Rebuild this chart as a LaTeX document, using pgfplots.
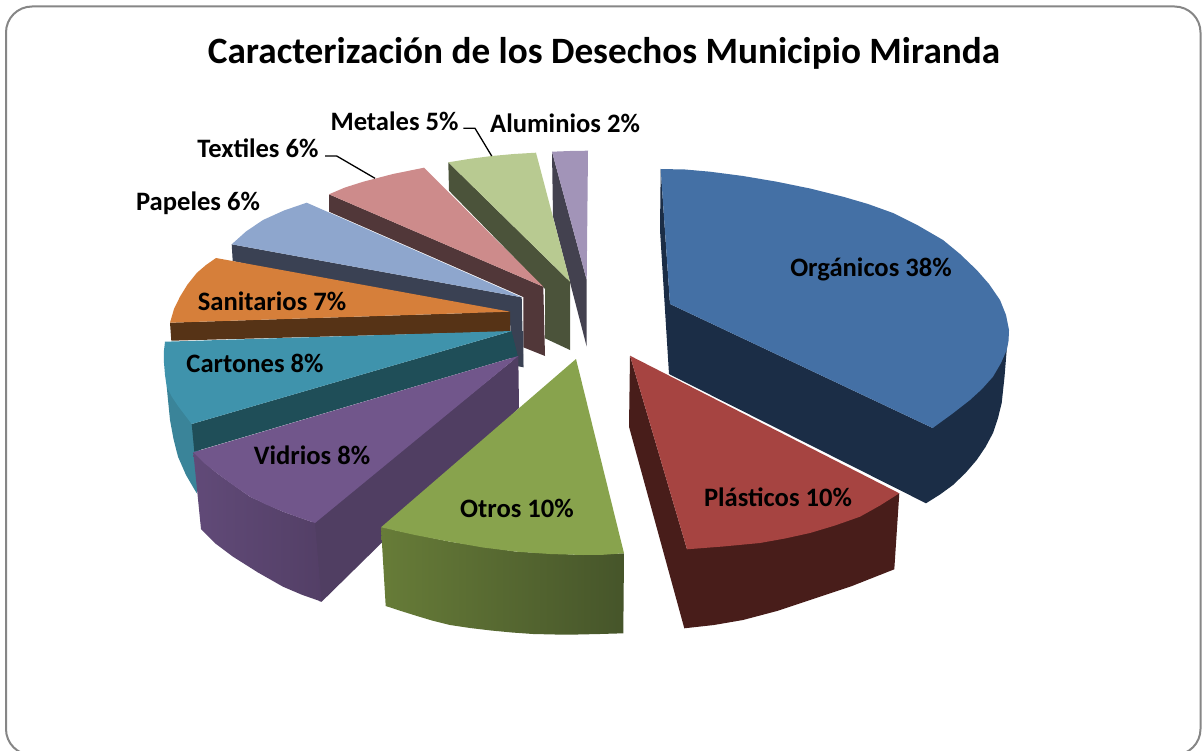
\documentclass[border=0pt]{standalone}
\usepackage{pgfplots}
\pgfplotsset{compat=1.18}
\usepackage{fontspec}
\setmainfont{Carlito}
\definecolor{cOrgT}{HTML}{4470A5}\definecolor{cOrgS}{HTML}{1B2D46}
\definecolor{cPlaT}{HTML}{A64441}\definecolor{cPlaS}{HTML}{481D1A}
\definecolor{cOtrT}{HTML}{88A34D}\definecolor{cOtrL}{HTML}{677C38}\definecolor{cOtrR}{HTML}{46552A}
\definecolor{cVidT}{HTML}{71568B}\definecolor{cVidL}{HTML}{614A78}\definecolor{cVidR}{HTML}{533F66}\definecolor{cVidD}{HTML}{503E62}
\definecolor{cCarT}{HTML}{3F93AC}\definecolor{cCarS}{HTML}{3A8499}\definecolor{cCarD}{HTML}{1F4E58}
\definecolor{cSanT}{HTML}{D67F3A}\definecolor{cSanS}{HTML}{563316}
\definecolor{cPapT}{HTML}{8EA6CD}\definecolor{cPapS}{HTML}{3A4153}
\definecolor{cTexT}{HTML}{CD8B8B}\definecolor{cTexS}{HTML}{513739}
\definecolor{cMetT}{HTML}{B8CA91}\definecolor{cMetS}{HTML}{4B533A}
\definecolor{cAluT}{HTML}{A294B8}\definecolor{cAluS}{HTML}{43414F}
\tikzset{lbl/.style={font=\fontsize{26.6}{30}\selectfont\bfseries,text=black,inner sep=0pt,anchor=center,text height=16.8pt,text depth=0pt}}
\begin{document}
\begin{tikzpicture}
\begin{axis}[at={(0,0)},anchor=south west,scale only axis,width=1202pt,height=751pt,
  xmin=0,xmax=1202,ymin=0,ymax=751,y dir=reverse,hide axis,clip=true,
  every axis plot/.append style={no markers,line width=0pt,draw=none}]
% frame
\addplot[draw=gray!95,line width=2pt,rounded corners=26pt] coordinates {(6,6.5)(1200.5,6.5)(1200.5,755)(6,755)} -- cycle;
% Aluminios
\addplot[fill=cAluS] coordinates {(552,151.7)(553,216.7)(586.7,346.7)(586.7,280)} -- cycle;
\addplot[fill=cAluT] coordinates {(586.7,280)(552,151.7)(570,151)(588,150.7)} -- cycle;
% Metales
\addplot[fill=cMetS] coordinates {(448.3,162.3)(449,190.7)(545,289)(545,338.3)(570,350)(570,281.7)} -- cycle;
\addplot[fill=cMetT] coordinates {(570,281.7)(448.3,162.3)(470,158.8)(491.7,156)(514,154)(536,152.7)} -- cycle;
% Textiles
\addplot[fill=cTexS] coordinates {(329,194.3)(329,211.7)(523.3,297)(523.3,347.3)(545,356)(543.3,286.7)} -- cycle;
\addplot[fill=cTexT] coordinates {(543.3,286.7)(329,194.3)(345,187.5)(363.3,181.7)(393,174)(424,167.7)} -- cycle;
% Papeles
\addplot[fill=cPapS] coordinates {(231.7,244.3)(232.7,261)(510,320)(512,365)(523.3,367.3)(521.7,297.3)} -- cycle;
\addplot[fill=cPapT] coordinates {(521.7,297.3)(231.7,244.3)(246,231.5)(263,220)(284,210.5)(306.7,202.7)} -- cycle;
% Sanitarios
\addplot[fill=cSanS] coordinates {(170,322.7)(171.3,340.7)(510,331.7)(510,311.7)} -- cycle;
\addplot[fill=cSanT] coordinates {(510,311.7)(170,322.7)(174,309)(180,296.7)(187.5,284.5)(196.7,273)(206,265)(216,258)} -- cycle;
% Cartones
\addplot[fill=cCarS] coordinates {(166.7,386.7)(170,420)(173.5,439)(178,456.7)(186,475)(196.7,493.3)(200,452)(192,424)} -- cycle;
\addplot[fill=cCarD] coordinates {(191.7,424)(194.3,451.7)(518,356)(511.7,331)} -- cycle;
\addplot[fill=cCarT] coordinates {(511.7,331)(165,341.7)(163.8,352)(164,363)(165,375)(166.7,386.7)(172,397)(178,406)(191.7,424)} -- cycle;
\addplot[draw=none,fill=cPapS] coordinates {(511.7,331)(523.3,331)(523.3,367.3)(518,356)} -- cycle;
% Vidrios
\addplot[fill=cVidD] coordinates {(518.3,356)(519,408)(321.7,601.7)(319,601)(312,523)} -- cycle;
\addplot[shade,left color=cVidL,right color=cVidR] coordinates {(193.3,452.3)(201,529)(216,544)(233,556.7)(258,572.5)(283,586.7)(302,594.8)(321.7,601.7)(315,523)(283,511.7)(250,496.7)(216.7,473)} -- cycle;
\addplot[fill=cVidT] coordinates {(518.3,356)(193.3,452.3)(204,463)(216.7,473)(233,485)(250,496.7)(266,504.5)(283,511.7)(299,517.5)(315,523)} -- cycle;
% Otros
\addplot[shade,left color=cOtrL,right color=cOtrR] coordinates {(381,527.3)(385.7,606)(401,611)(417,616)(433,620.8)(450,625)(470,628)(491,630.5)(512,632.5)(533,634)(555,634.5)(578,634.5)(600,634)(623.3,633.3)(624,553.3)(583,555)(516.7,551.7)(450,541.7)} -- cycle;
\addplot[fill=cOtrT] coordinates {(576,359)(624,553.3)(603,554.8)(583,555)(550,554)(516.7,551.7)(483,547.5)(450,541.7)(415,535)(381,527.3)} -- cycle;
% Organicos
\addplot[fill=cOrgS] coordinates {(660.7,169)(660,230)(669,374)(926,503.3)(940,494.5)(953,485)(965.5,473)(976.7,460)(985.5,447)(993,433)(998,418)(1001.7,403)(1004.5,377)(1006.7,350)(1009,330)(932.7,428)(670,304)} -- cycle;
\addplot[fill=cOrgT] coordinates {(670,304)(660.7,169)(685,169.5)(710,171.7)(743,176)(776.7,181.7)(810,188.5)(843,196.7)(868,204)(893,213)(918,225.5)(943,240)(960,254)(976.7,270)(989,284)(1000,300)(1006,315)(1009,330)(1008.5,341)(1006.7,350)(1001,363)(993,376.7)(982,389)(970,400)(952,414)(932.7,428)} -- cycle;
% Plasticos
\addplot[fill=cPlaS] coordinates {(630,355.7)(629,426.7)(684.3,628.3)(714,625)(743,620)(777,611)(810,600)(852,586)(894.3,569.3)(899.3,493.3)(687,549.3)} -- cycle;
\addplot[fill=cPlaT] coordinates {(630,355.7)(899.3,493.3)(880,505.5)(860,516.7)(835,525.5)(810,533)(785,538.5)(760,543)(723,546.5)(687,549.3)} -- cycle;
% leaders
\addplot[draw=black,line width=1.3pt] coordinates {(463.3,128.3)(475,128.3)(491.7,156)};
\addplot[draw=black,line width=1.3pt] coordinates {(325,156)(336.7,156)(375,178.3)};
% labels
\node[lbl,font=\fontsize{37.2}{40}\selectfont\bfseries,text height=23.5pt] at (axis cs:604,51.5) {Caracterización de los Desechos Municipio Miranda};
\node[lbl] at (axis cs:871,267.7) {Orgánicos 38\%};
\node[lbl] at (axis cs:778,497.7) {Plásticos 10\%};
\node[lbl] at (axis cs:517,509.5) {Otros 10\%};
\node[lbl] at (axis cs:312,455.9) {Vidrios 8\%};
\node[lbl] at (axis cs:255,364.2) {Cartones 8\%};
\node[lbl] at (axis cs:272,301.7) {Sanitarios 7\%};
\node[lbl] at (axis cs:198,202.2) {Papeles 6\%};
\node[lbl] at (axis cs:258,149.5) {Textiles 6\%};
\node[lbl] at (axis cs:394.5,121.7) {Metales 5\%};
\node[lbl] at (axis cs:565,123.7) {Aluminios 2\%};
\end{axis}
\pgfresetboundingbox
\path[use as bounding box] (0,0) rectangle (1202pt,751pt);
\end{tikzpicture}
\end{document}
